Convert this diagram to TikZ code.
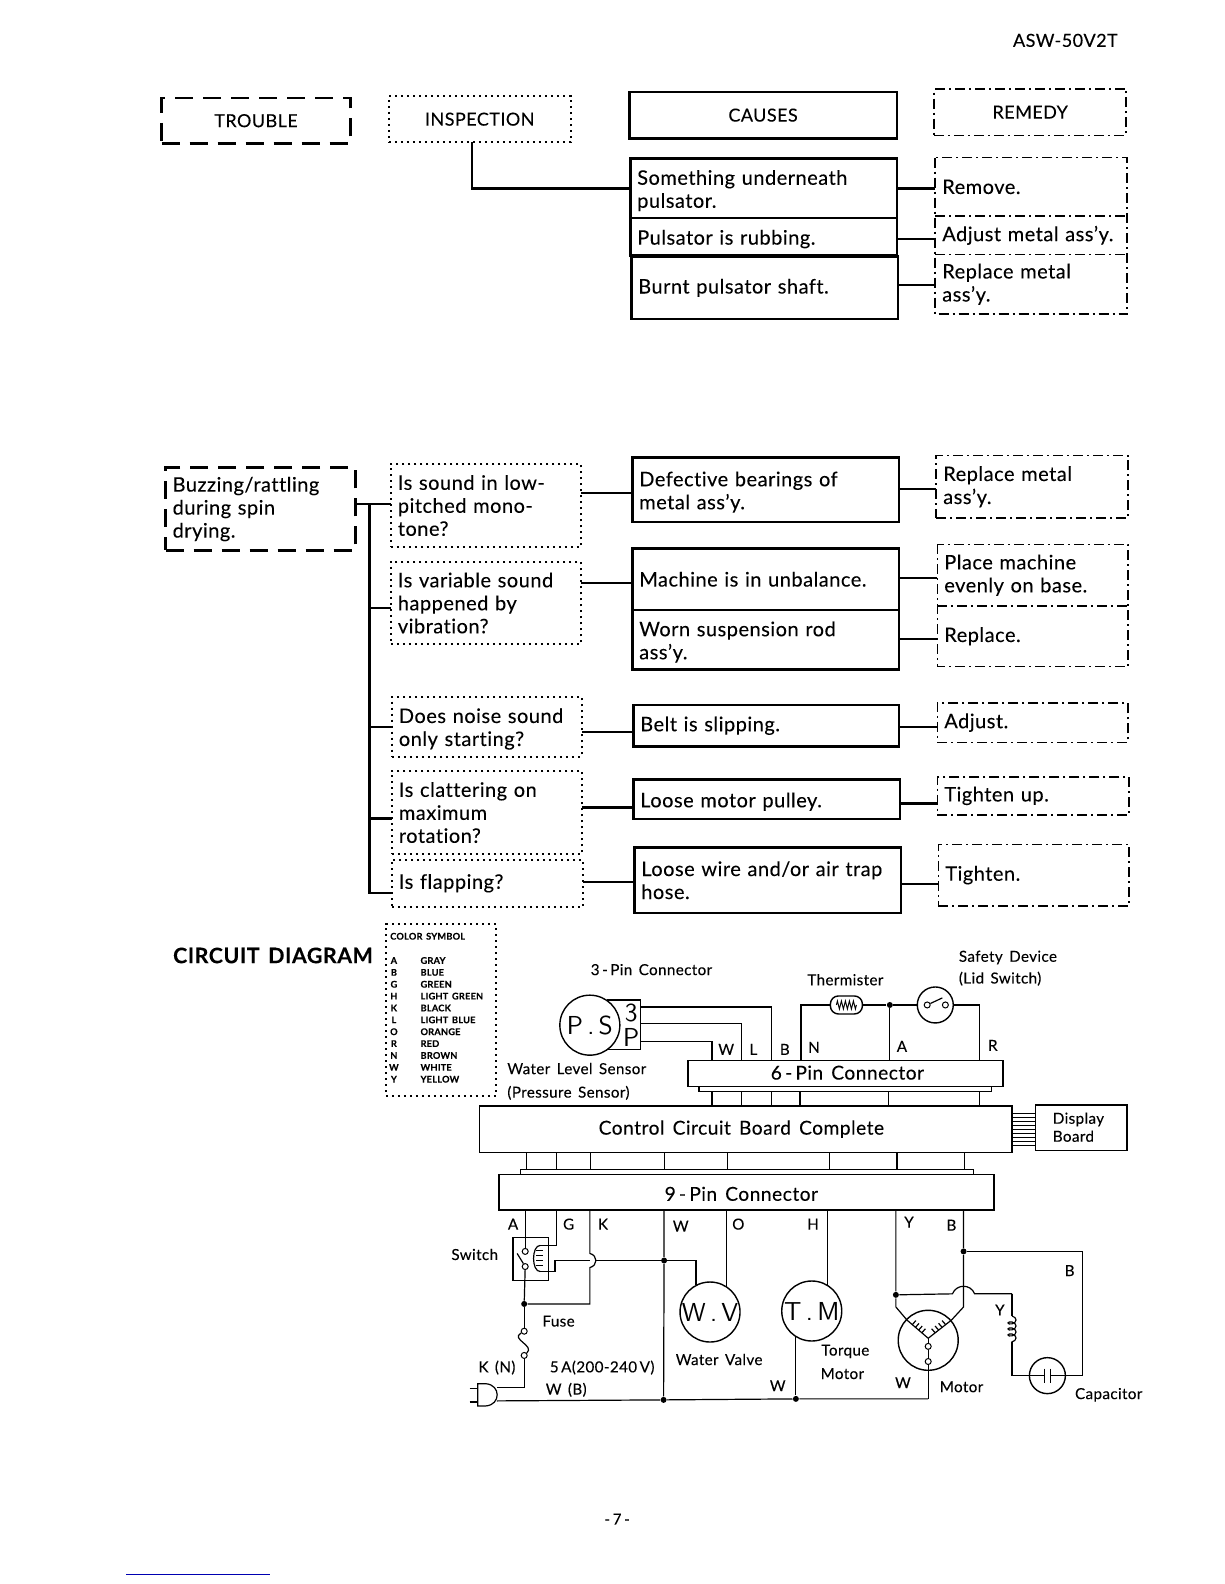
\documentclass[tikz,border=0pt]{standalone}
\usepackage{fontspec}
\setmainfont[LetterSpace=2.5,WordSpace=1.5,Ligatures=NoCommon,FakeBold=0.1]{Lato}
\usetikzlibrary{calc,decorations.pathmorphing}
\tikzset{
	bx/.style 2 args={anchor=north west,outer sep=0pt,inner ysep=0pt,inner xsep=3.5pt,align=left,
		minimum width=#1*0.505pt,minimum height=#2*0.505pt,text width=(#1*0.505-7)*1pt,
		font=\fontsize{10}{11.5}\selectfont},
	hd/.style={align=center,font=\fontsize{9}{11}\selectfont},
	low/.style={text height=9.6pt},
	troublebox/.style={draw,line width=1.2pt,dash pattern=on 9pt off 5pt},
	inspectbox/.style={draw,line width=1pt,dash pattern=on 1pt off 2pt},
	causebox/.style={draw,line width=1.3pt},
	remedyline/.style={line width=0.8pt,dash pattern=on 5pt off 2pt on 1pt off 2pt},
	remedybox/.style={draw,remedyline},
	link/.style={line width=1.2pt},
	wire/.style={line width=0.6pt},
	lab/.style={inner sep=0pt,font=\fontsize{7.6}{9}\selectfont},
	big/.style={inner sep=0pt,font=\fontsize{9.6}{11}\selectfont},
	panel/.style 2 args={draw,line width=0.7pt,anchor=north west,outer sep=0pt,inner sep=0pt,
		minimum width=#1*0.505pt,minimum height=#2*0.505pt},
	unit/.style={circle,draw,line width=0.7pt,inner sep=0pt,outer sep=0pt,minimum size=#1,fill=white,
		font=\sffamily\fontsize{13}{13}\selectfont},
	dot/.style={circle,fill,inner sep=0pt,minimum size=3pt},
	contact/.style={circle,draw,fill=white,line width=0.5pt,inner sep=0pt,minimum size=3pt},
	windg/.style={wire,decorate,decoration={coil,aspect=0.6,segment length=3pt,amplitude=2pt}},
}
\begin{document}
\begin{tikzpicture}[x=0.505pt,y=-0.505pt]
	\useasboundingbox (0,0) rectangle (1211.9,1568.3);
	\node[lab,anchor=east,font=\fontsize{9}{9}\selectfont] (model) at (1107,40) {ASW-50V2T};
	% headings
	\node[bx={187}{45},troublebox,hd] (htrouble) at (160,97) {TROUBLE};
	\node[bx={180}{46},inspectbox,hd] (hinspect) at (385,95) {INSPECTION};
	\node[bx={265}{46},causebox,hd] (hcause) at (623,91) {CAUSES};
	\node[bx={190}{46},remedybox,hd] (hremedy) at (925,88) {REMEDY};
	% first group
	\node[bx={264}{59},causebox,low] (ca) at (624,157) {Something underneath\\pulsator.};
	\node[bx={264}{37},causebox,low] (cb) at (624,216) {Pulsator is rubbing.};
	\node[bx={264}{62},causebox] (cc) at (625,254) {Burnt pulsator shaft.};
	\node[bx={189}{58}] (ra) at (926,156) {Remove.};
	\node[bx={189}{38}] (rb) at (926,214) {Adjust metal ass'y.};
	\node[bx={190}{59}] (rc) at (926,252) {Replace metal\\ass'y.};
	\draw[remedyline] (ra.north west) rectangle (rc.south east);
	\draw[remedyline] (rb.north west) -- (rb.north east);
	\draw[remedyline] (rc.north west) -- (rc.north east);
	\draw[link] ([xshift=-4pt]hinspect.south) |- (ca.west);
	\foreach \c/\r/\o in {ca/ra/0,cb/rb/-1,cc/rc/1.5}
		\draw[link] ([yshift=\o pt]\c.east) -- ([yshift=\o pt]\c.east -| \r.west);
	% buzzing group
	\node[bx={188}{82},troublebox] (tb) at (164,463) {Buzzing/rattling\\during spin\\drying.};
	\node[bx={188}{83},inspectbox] (qa) at (387,459) {Is sound in low-\\pitched mono-\\tone?};
	\node[bx={188}{82},inspectbox] (qb) at (387,556) {Is variable sound\\happened by\\vibration?};
	\node[bx={188}{59},inspectbox,low] (qc) at (388,690) {Does noise sound\\only starting?};
	\node[bx={188}{83},inspectbox] (qd) at (388,763) {Is clattering on\\maximum\\rotation?};
	\node[bx={189}{47},inspectbox] (qe) at (388,851) {Is flapping?};
	\node[bx={264}{64},causebox,low] (da) at (626,453) {Defective bearings of\\metal ass'y.};
	\node[bx={264}{61},causebox] (db) at (626,543) {Machine is in unbalance.};
	\node[bx={264}{59},causebox,low] (dc) at (626,604) {Worn suspension rod\\ass'y.};
	\node[bx={263}{41},causebox] (dd) at (627,698) {Belt is slipping.};
	\node[bx={264}{39},causebox,low] (de) at (627,772) {Loose motor pulley.};
	\node[bx={264}{65},causebox] (df) at (628,839) {Loose wire and/or air trap\\hose.};
	\node[bx={190}{62},remedybox] (sa) at (927,451) {Replace metal\\ass'y.};
	\node[bx={189}{61}] (sb) at (928,539) {Place machine\\evenly on base.};
	\node[bx={189}{60}] (sc) at (928,600) {Replace.};
	\draw[remedyline] (sb.north west) rectangle (sc.south east);
	\draw[remedyline] (sc.north west) -- (sc.north east);
	\node[bx={189}{39},remedybox] (sd) at (928,696) {Adjust.};
	\node[bx={190}{38},remedybox] (se) at (928,769) {Tighten up.};
	\node[bx={189}{61},remedybox] (sf) at (929,836) {Tighten.};
	\coordinate (trunk) at (366,499);
	\draw[link] (tb.east |- trunk) -- (qa.west |- trunk);
	\draw[link] (trunk) |- ([yshift=-5pt]qe.west);
	\foreach \q/\o in {qb/-2.5,qc/0,qd/-3}
		\draw[link] ([yshift=\o pt]\q.west) -- ([yshift=\o pt]\q.west -| trunk);
	\foreach \q/\d/\o in {qa/da/-1.5,qb/db/-2,qc/dd/-3,qd/de/-4,qe/df/-1}
		\draw[link] ([yshift=\o pt]\d.west) -- ([yshift=\o pt]\d.west -| \q.east);
	\foreach \d/\s/\o in {da/sa/0.5,db/sb/0.7,dc/sc/0.5,dd/sd/-0.7,de/se/-2,df/sf/-2}
		\draw[link] ([yshift=\o pt]\d.east) -- ([yshift=\o pt]\d.east -| \s.west);
	% legend
	\node[anchor=west,inner sep=0pt,font=\bfseries\fontsize{10.7}{11}\selectfont] (title) at (171,946) {CIRCUIT DIAGRAM};
	\node[bx={109}{170},inspectbox] (legend) at (382,915) {};
	\node[anchor=west,inner sep=0pt,font=\bfseries\fontsize{4.6}{5}\selectfont] (legtitle) at (386,927) {COLOR SYMBOL};
	\foreach \k/\n [count=\i from 0] in {A/GRAY,B/BLUE,G/GREEN,H/LIGHT GREEN,K/BLACK,L/LIGHT BLUE,O/ORANGE,R/RED,N/BROWN,W/WHITE,Y/YELLOW} {
		\node[inner sep=0pt,font=\bfseries\fontsize{4.6}{5}\selectfont] (k\i) at (390,951+\i*11.75) {\k};
		\node[anchor=west,inner sep=0pt,font=\bfseries\fontsize{4.6}{5}\selectfont] (n\i) at (416,951+\i*11.75) {\n};
	}
	% circuit boards
	\node[panel={312}{26}] (six) at (681,1050) {};
	\node[big] (sixtext) at (839,1062) {6\,-\,Pin Connector};
	\node[panel={527}{46}] (board) at (475,1095) {};
	\node[big] (boardtext) at (734,1118) {Control Circuit Board Complete};
	\node[panel={91}{45}] (display) at (1025,1094) {};
	\node[anchor=west,lab,align=left] (disptext) at (1042,1116) {Display\\Board};
	\node[panel={490}{35}] (nine) at (494,1163) {};
	\node[big] (ninetext) at (734,1182) {9\,-\,Pin Connector};
	\coordinate (sixlip) at (692,1081);
	\coordinate (ninelip) at (515,1158);
	\draw[wire] (sixlip |- six.south) |- (982,1081) -- (982,1076);
	\draw[wire] (ninelip |- nine.north) |- (964,1158) -- (964,1163);
	\foreach \y in {1102,1106,1110,1114,1118,1122,1126,1130,1134}
		\draw[line width=0.3pt] (board.east |- 0,\y) -- (display.west |- 0,\y);
	\foreach \x in {705,734,764,792,880,970} {
		\coordinate (v) at (\x,0);
		\draw[wire] (sixlip -| v) -- (board.north -| v);
	}
	\foreach \x in {521,551,585,658,720,821,888,955} {
		\coordinate (v) at (\x,0);
		\draw[wire] (board.south -| v) -- (ninelip -| v);
	}
	% pressure sensor
	\node[panel={32}{49}] (tp) at (602,990) {};
	\node[unit=30pt] (ps) at (584,1015) {P\,.\,S};
	\node[inner sep=0pt,font=\sffamily\fontsize{13}{13}\selectfont] (tpa) at (625,1003) {3};
	\node[inner sep=0pt,font=\sffamily\fontsize{13}{13}\selectfont] (tpb) at (625,1027) {P};
	\draw[wire] (tp.east |- 0,997) -| (six.north -| 764,0);
	\draw[wire] (tp.east |- 0,1013) -| (six.north -| 734,0);
	\draw[wire] (tp.east |- 0,1031) -| (six.north -| 705,0);
	% thermister and lid switch
	\node[draw,line width=0.7pt,fill=white,rounded corners=4pt,minimum width=16pt,minimum height=9pt,inner sep=0pt] (therm) at (838,995) {};
	\draw[line width=0.5pt,decorate,decoration={zigzag,segment length=2pt,amplitude=2pt}] ([xshift=-5pt]therm.center) -- ([xshift=5pt]therm.center);
	\node[unit=18pt] (lid) at (926,995) {};
	\node[contact] (lida) at (918,995) {};
	\node[contact] (lidb) at (936,995) {};
	\draw[wire] (lida) -- (933,988);
	\node[dot] (ja) at (881,995) {};
	\draw[wire] (six.north -| 793,0) |- (therm.west);
	\draw[wire] (therm.east) -- (ja) -- (lid.west);
	\draw[wire] (ja) -- (six.north -| ja);
	\draw[wire] (lid.east) -| (six.north -| 970,0);
	% switch
	\node[panel={35}{43}] (sw) at (508,1225) {};
	\node[contact] (swa) at (520,1239) {};
	\node[contact] (swb) at (520,1254) {};
	\draw[wire] (swb) -- (512,1241);
	\coordinate (coila) at (535,1233);
	\coordinate (coilb) at (535,1259);
	\draw[wire] (coila) .. controls (526,1233) and (526,1259) .. (coilb);
	\foreach \y in {1238,1243,1248,1253} \draw[line width=0.6pt] (531,\y) -- (538,\y);
	\node[dot] (jb) at (519,1291) {};
	\node[dot] (jc) at (657.5,1248) {};
	\node[dot] (jd) at (657,1386) {};
	\node[dot] (je) at (788,1385) {};
	\draw[wire] (nine.south -| swa) -- (swa);
	\draw[wire] (swb) -- (jb);
	\draw[wire] (coila) -| (nine.south -| 551,0);
	\draw[wire] (coilb) -- (549.5,1259) -- (549.5,1248) -- (584,1248);
	\draw[wire] (590,1248) -- (jc);
	\draw[wire] (nine.south -| 584,0) -- (584,1241) .. controls (592,1243) and (592,1253) .. (584,1255) |- (jb);
	\draw[wire] (nine.south -| jc) -- (jc) -- (jd);
	% fuse and plug
	\node[contact] (fa) at (519,1318) {};
	\node[contact] (fb) at (519,1342) {};
	\draw[wire] (jb) -- (fa);
	\draw[wire] (fa) .. controls (505,1326) and (530,1332) .. (fb);
	\coordinate (plugt) at (492,1374);
	\coordinate (plugb) at (492,1387);
	\draw[wire] (fb) |- (plugt);
	\draw[wire] (473,1370) -- (481,1370) .. controls (496,1371) and (496,1391) .. (481,1392) -- (473,1392) -- cycle;
	\draw[wire] (465,1375) -- (473,1375) (465,1388) -- (473,1388);
	\draw[wire] (plugb) -- (jd) -- (je) -- (919,1385);
	% water valve and torque motor
	\node[unit=30pt] (wv) at (703,1299) {W\,.\,V};
	\node[unit=30pt] (tm) at (803.7,1298) {T\,.\,M};
	\draw[wire] (jc) -| (wv.north -| 689,0) -- (689,1272);
	\draw[wire] (nine.south -| 719,0) -- (719,1274);
	\draw[wire] (nine.south -| 819.5,0) -- (819.5,1273);
	\draw[wire] (788,1323) -- (je);
	% motor
	\node[unit=30pt] (mo) at (919,1327) {};
	\node[dot] (jf) at (887,1282) {};
	\node[dot] (jg) at (954,1239) {};
	\node[contact] (ma) at (919,1333) {};
	\node[contact] (mb) at (919,1348) {};
	\coordinate (mc) at (919,1325);
	\coordinate (ml) at (898,1307);
	\coordinate (mr) at (942,1307);
	\draw[wire] (ml) -- (mc) -- (mr);
	\foreach \t in {0.25,0.4,0.55,0.7} {
		\draw[wire] ($(ml)!\t!(mc)$) -- ++(3.5,-4);
		\draw[wire] ($(mr)!\t!(mc)$) -- ++(-3.5,-4);
	}
	\draw[wire] (mc) -- (ma) -- (mb) -- (919,1385);
	\draw[wire] (nine.south -| jf) -- (jf) -- (887,1294) -- (ml);
	\draw[wire] (nine.south -| jg) -- (jg) -- (954,1294) -- (mr);
	\draw[wire] (jf) -- (943,1281) .. controls (947,1271) and (961,1271) .. (965,1281) -- (1002,1281);
	% capacitor
	\node[unit=18pt] (cap) at (1037,1362) {};
	\coordinate (cpa) at (1034.5,1362);
	\coordinate (cpb) at (1040,1362);
	\draw[wire] (cap.west) -- (cpa) ++(0,-7) -- ++(0,14);
	\draw[wire] (cap.east) -- (cpb) ++(0,-7) -- ++(0,14);
	\draw[wire] (1002,1281) -- (1002,1303);
	\draw[windg] (1002,1303) -- (1002,1329);
	\draw[wire] (1002,1329) |- (cap.west);
	\draw[wire] (jg) -| (1072,1362) -- (cap.east);
	% labels
	\node[lab] (l3pin) at (645,960) {3\,-\,Pin Connector};
	\node[lab] (lthm) at (837,970) {Thermister};
	\node[lab,anchor=west] (lsafe) at (949,948) {Safety Device};
	\node[lab,anchor=west] (llid) at (949,969) {(Lid Switch)};
	\node[lab,anchor=west] (lwls) at (502,1058) {Water Level Sensor};
	\node[lab,anchor=west] (lprs) at (502,1082) {(Pressure Sensor)};
	\foreach \t/\x/\y [count=\i] in {W/719/1039,L/746/1039,B/777/1039,N/806/1037,A/893/1036,R/983/1035,A/508/1212,G/563/1212,K/597/1212,W/674/1214,O/731/1212,H/805/1212,Y/900/1210,B/942/1213,B/1059/1258,Y/990/1297,W/770/1372,W/894/1369}
		\node[lab] (w\i) at (\x,\y) {\t};
	\node[lab] (lsw) at (470,1242) {Switch};
	\node[lab] (lfuse) at (553,1308) {Fuse};
	\node[lab] (lkn) at (492,1354) {K (N)};
	\node[lab,anchor=west] (lamp) at (544,1354) {5\,A(200-240\,V)};
	\node[lab,anchor=west] (lwb) at (540,1376) {W (B)};
	\node[lab] (lwv) at (712,1346) {Water Valve};
	\node[lab] (ltq) at (837,1338) {Torque};
	\node[lab] (ltm) at (834,1360) {Motor};
	\node[lab] (lmo) at (952,1373) {Motor};
	\node[lab,anchor=west] (lcap) at (1064,1381) {Capacitor};
	\node[lab] (page) at (611,1504) {-\,7\,-};
	\draw[blue!70!black,line width=0.6pt] (125,1559) -- (267,1559);
\end{tikzpicture}
\end{document}
